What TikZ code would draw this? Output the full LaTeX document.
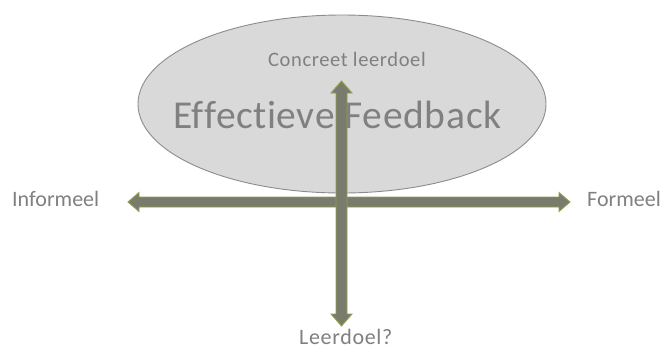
\documentclass[tikz,border=0pt]{standalone}
\usepackage{fontspec}
\setmainfont{Carlito}[Ligatures={CommonOff,ContextualOff,RareOff}, RawFeature={-liga;-clig;-dlig}]
\usetikzlibrary{calc,shapes.geometric}
\definecolor{txtgray}{HTML}{808080}
\definecolor{ellfill}{HTML}{D9D9D9}
\definecolor{elldraw}{HTML}{8C8C8C}
\definecolor{arrfill}{HTML}{797B6C}
\definecolor{arrdraw}{HTML}{8FA250}
\tikzset{
  lbl/.style={anchor=base west, inner sep=0pt, text=txtgray, font=\fontsize{22bp}{24bp}\selectfont},
  biglbl/.style={anchor=base west, inner sep=0pt, text=txtgray, font=\fontsize{39.5bp}{42bp}\selectfont\addfontfeature{LetterSpace=1.8}},
  arrbody/.style={fill=arrfill, draw=arrdraw, line width=0.9bp, line join=miter},
  ellbox/.style={ellipse, fill=ellfill, draw=elldraw, line width=0.9bp, inner sep=0pt, minimum width=408bp, minimum height=178bp}
}
\begin{document}
\begin{tikzpicture}[x=1bp,y=-1bp]
\useasboundingbox (0,0) rectangle (662,349);
\fill[white] (0,0) rectangle (662,349);
% ellipse
\node[ellbox] (el) at (342,104) {};
\node[biglbl] (ef) at (173,128) {Ef\kern0ptf\kern0ptect\kern0ptieve Feedback};
\node[lbl, font=\fontsize{20.5bp}{22bp}\selectfont\addfontfeature{LetterSpace=3}] (cl) at (268,66) {Concreet leerdoel};
\node[lbl] (inf) at (12,206) {Informeel};
\node[lbl] (form) at (587,206) {Formeel};
\node[lbl, font=\fontsize{22bp}{24bp}\selectfont\addfontfeature{LetterSpace=3}] (ld) at (299,344.5) {Leerdoel?};
% horizontal arrow
\coordinate (hl) at (128,202);
\coordinate (hr) at (570,202);
\draw[arrbody] (hl) -- ($(hl)+(11,-9.5)$) -- ($(hl)+(11,-5)$) -- ($(hr)+(-11,-5)$) -- ($(hr)+(-11,-9.5)$) -- (hr)
  -- ($(hr)+(-11,9.5)$) -- ($(hr)+(-11,5)$) -- ($(hl)+(11,5)$) -- ($(hl)+(11,9.5)$) -- cycle;
% vertical arrow
\coordinate (vt) at (341.5,81);
\coordinate (vb) at (341.5,326);
\draw[arrbody] (vt) -- ($(vt)+(10.5,12)$) -- ($(vt)+(5.5,12)$) -- ($(vb)+(5.5,-12)$) -- ($(vb)+(10.5,-12)$) -- (vb)
  -- ($(vb)+(-10.5,-12)$) -- ($(vb)+(-5.5,-12)$) -- ($(vt)+(-5.5,12)$) -- ($(vt)+(-10.5,12)$) -- cycle;
\end{tikzpicture}
\end{document}
